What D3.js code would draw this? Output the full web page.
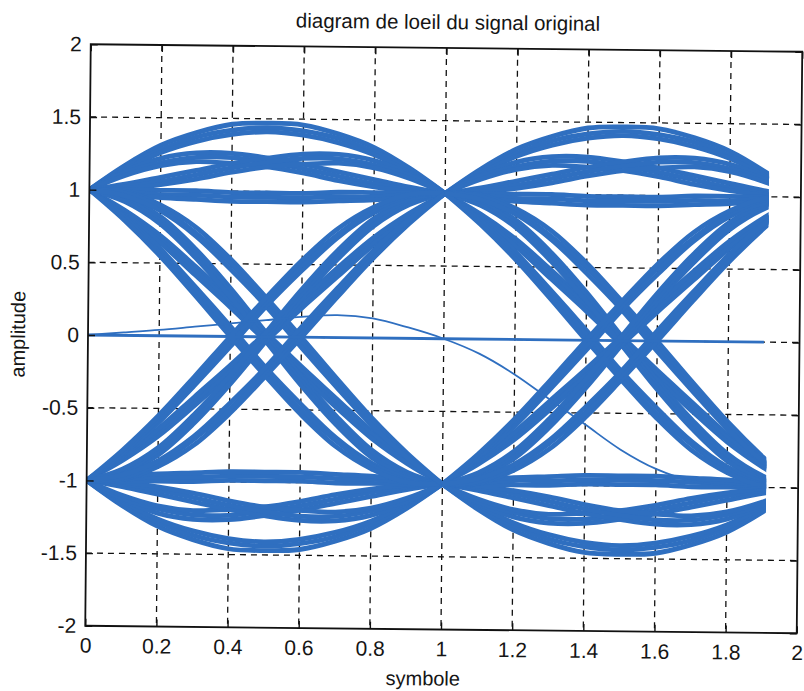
<!DOCTYPE html>
<html>
<head>
<meta charset="utf-8">
<script src="https://cdn.jsdelivr.net/npm/d3@7"></script>
<style>
  body { margin: 0; background: #fff; }
  text { font-family: "Liberation Sans", Arial, sans-serif; fill: #151515; }
</style>
</head>
<body>
<svg id="chart" width="804" height="691"></svg>
<script>
// Sample positions inside one symbol period
const symbolPhase = [0, 0.1, 0.2, 0.3, 0.4, 0.5, 0.6, 0.7, 0.8, 0.9, 1.0];
// Start of each symbol period shown on the eye
const symbolStarts = [0, 1];
// Last instant of the observation window
const windowEnd = 1.91;

// Traces that leave +1 and come back to +1
const highHold = [
  [1, 1.17, 1.31, 1.40, 1.46, 1.47, 1.46, 1.40, 1.31, 1.17, 1],
  [1, 1.16, 1.28, 1.37, 1.42, 1.44, 1.42, 1.37, 1.28, 1.16, 1],
  [1, 1.14, 1.26, 1.34, 1.39, 1.41, 1.39, 1.34, 1.26, 1.14, 1],
  [1, 1.13, 1.22, 1.26, 1.26, 1.23, 1.19, 1.14, 1.09, 1.04, 1],
  [1, 1.12, 1.19, 1.23, 1.23, 1.20, 1.16, 1.11, 1.06, 1.02, 1],
  [1, 1.10, 1.17, 1.20, 1.19, 1.17, 1.13, 1.08, 1.04, 1.01, 1],
  [1, 1.04, 1.09, 1.14, 1.19, 1.23, 1.26, 1.26, 1.22, 1.13, 1],
  [1, 1.02, 1.06, 1.11, 1.16, 1.20, 1.23, 1.23, 1.19, 1.12, 1],
  [1, 1.01, 1.04, 1.08, 1.13, 1.17, 1.19, 1.20, 1.17, 1.10, 1],
  [1, 1.00, 1.00, 1.00, 0.99, 0.99, 0.99, 1.00, 1.00, 1.00, 1],
  [1, 0.99, 0.97, 0.97, 0.96, 0.96, 0.96, 0.97, 0.97, 0.99, 1],
  [1, 0.97, 0.95, 0.94, 0.93, 0.93, 0.93, 0.94, 0.95, 0.97, 1]
];

// Traces that leave -1 and come back to -1
const lowHold = [
  [-1, -1.17, -1.31, -1.40, -1.46, -1.47, -1.46, -1.40, -1.31, -1.17, -1],
  [-1, -1.16, -1.28, -1.37, -1.42, -1.44, -1.42, -1.37, -1.28, -1.16, -1],
  [-1, -1.14, -1.26, -1.34, -1.39, -1.41, -1.39, -1.34, -1.26, -1.14, -1],
  [-1, -1.13, -1.22, -1.26, -1.26, -1.23, -1.19, -1.14, -1.09, -1.04, -1],
  [-1, -1.12, -1.19, -1.23, -1.23, -1.20, -1.16, -1.11, -1.06, -1.02, -1],
  [-1, -1.10, -1.17, -1.20, -1.19, -1.17, -1.13, -1.08, -1.04, -1.01, -1],
  [-1, -1.04, -1.09, -1.14, -1.19, -1.23, -1.26, -1.26, -1.22, -1.13, -1],
  [-1, -1.02, -1.06, -1.11, -1.16, -1.20, -1.23, -1.23, -1.19, -1.12, -1],
  [-1, -1.01, -1.04, -1.08, -1.13, -1.17, -1.19, -1.20, -1.17, -1.10, -1],
  [-1, -1.00, -1.00, -1.00, -0.99, -0.99, -0.99, -1.00, -1.00, -1.00, -1],
  [-1, -0.99, -0.97, -0.97, -0.96, -0.96, -0.96, -0.97, -0.97, -0.99, -1],
  [-1, -0.97, -0.95, -0.94, -0.93, -0.93, -0.93, -0.94, -0.95, -0.97, -1]
];

// Transitions from +1 down to -1
const fallTraces = [
  [1, 0.86, 0.69, 0.48, 0.26, 0.03, -0.20, -0.42, -0.64, -0.83, -1],
  [1, 0.84, 0.66, 0.45, 0.23, 0.00, -0.23, -0.45, -0.66, -0.84, -1],
  [1, 0.83, 0.64, 0.42, 0.20, -0.03, -0.26, -0.48, -0.69, -0.86, -1],
  [1, 0.95, 0.82, 0.60, 0.33, 0.03, -0.27, -0.54, -0.77, -0.92, -1],
  [1, 0.94, 0.79, 0.57, 0.30, 0.00, -0.30, -0.57, -0.79, -0.94, -1],
  [1, 0.92, 0.77, 0.54, 0.27, -0.03, -0.33, -0.60, -0.82, -0.95, -1],
  [1, 0.82, 0.60, 0.34, 0.07, -0.21, -0.46, -0.69, -0.86, -0.96, -1],
  [1, 0.81, 0.57, 0.31, 0.04, -0.24, -0.50, -0.71, -0.88, -0.98, -1],
  [1, 0.79, 0.55, 0.28, 0.00, -0.27, -0.53, -0.75, -0.90, -0.99, -1],
  [1, 0.99, 0.90, 0.75, 0.53, 0.27, 0.00, -0.28, -0.55, -0.79, -1],
  [1, 0.98, 0.88, 0.71, 0.50, 0.24, -0.04, -0.31, -0.57, -0.81, -1],
  [1, 0.96, 0.86, 0.69, 0.46, 0.21, -0.07, -0.34, -0.60, -0.82, -1]
];

// Transitions from -1 up to +1
const riseTraces = [
  [-1, -0.86, -0.69, -0.48, -0.26, -0.03, 0.20, 0.42, 0.64, 0.83, 1],
  [-1, -0.84, -0.66, -0.45, -0.23, 0.00, 0.23, 0.45, 0.66, 0.84, 1],
  [-1, -0.83, -0.64, -0.42, -0.20, 0.03, 0.26, 0.48, 0.69, 0.86, 1],
  [-1, -0.95, -0.82, -0.60, -0.33, -0.03, 0.27, 0.54, 0.77, 0.92, 1],
  [-1, -0.94, -0.79, -0.57, -0.30, 0.00, 0.30, 0.57, 0.79, 0.94, 1],
  [-1, -0.92, -0.77, -0.54, -0.27, 0.03, 0.33, 0.60, 0.82, 0.95, 1],
  [-1, -0.82, -0.60, -0.34, -0.07, 0.21, 0.46, 0.69, 0.86, 0.96, 1],
  [-1, -0.81, -0.57, -0.31, -0.04, 0.24, 0.50, 0.71, 0.88, 0.98, 1],
  [-1, -0.79, -0.55, -0.28, 0.00, 0.27, 0.53, 0.75, 0.90, 0.99, 1],
  [-1, -0.99, -0.90, -0.75, -0.53, -0.27, 0.00, 0.28, 0.55, 0.79, 1],
  [-1, -0.98, -0.88, -0.71, -0.50, -0.24, 0.04, 0.31, 0.57, 0.81, 1],
  [-1, -0.96, -0.86, -0.69, -0.46, -0.21, 0.07, 0.34, 0.60, 0.82, 1]
];

// Start-up trace (signal before the first full symbol) and the idle zero level
const transientTime = [0, 0.1, 0.2, 0.3, 0.4, 0.5, 0.6, 0.7, 0.8, 0.9, 1.0, 1.1, 1.2, 1.3, 1.4, 1.5, 1.6, 1.7, 1.8, 1.9];
const transientLevel = [0, 0.02, 0.04, 0.065, 0.09, 0.115, 0.14, 0.155, 0.135, 0.075, 0.0, -0.10, -0.24, -0.41, -0.58, -0.75, -0.88, -0.96, -0.99, -1.0];
const idleTime = [0, 1, 1.9];
const idleLevel = [0, 0, 0];

// Axis ticks
const xTicks = [0, 0.2, 0.4, 0.6, 0.8, 1, 1.2, 1.4, 1.6, 1.8, 2];
const yTicks = [-2, -1.5, -1, -0.5, 0, 0.5, 1, 1.5, 2];
const xTickLabels = ["0", "0.2", "0.4", "0.6", "0.8", "1", "1.2", "1.4", "1.6", "1.8", "2"];
const yTickLabels = ["-2", "-1.5", "-1", "-0.5", "0", "0.5", "1", "1.5", "2"];

const titleText = "diagram de loeil du signal original";
const xLabelText = "symbole";
const yLabelText = "amplitude";

// ---- drawing ----
const W = 711.5, H = 581.5;
const traceColor = "#2f6fc0";

const svg = d3.select("#chart");
// The page was photographed slightly askew; the whole figure shares that skew.
const root = svg.append("g")
  .attr("transform", "matrix(1,0.01054,-0.00946,1,90.75,44.25)");

const x = d3.scaleLinear().domain([0, 2]).range([0, W]);
const y = d3.scaleLinear().domain([-2, 2]).range([H, 0]);

root.append("clipPath").attr("id", "window")
  .append("rect").attr("x", 0).attr("y", 0)
  .attr("width", x(windowEnd)).attr("height", H);

// Dashed grid, under the traces
const grid = root.append("g")
  .attr("stroke", "#111").attr("stroke-width", 1.3).attr("stroke-dasharray", "6,5");
grid.selectAll(".gx").data(xTicks.slice(1, -1)).join("line")
  .attr("x1", d => x(d)).attr("x2", d => x(d)).attr("y1", 0).attr("y2", H);
grid.selectAll(".gy").data(yTicks.slice(1, -1)).join("line")
  .attr("y1", d => y(d)).attr("y2", d => y(d)).attr("x1", 0).attr("x2", W);

const line = d3.line()
  .x(d => x(d[0])).y(d => y(d[1]))
  .curve(d3.curveCatmullRom.alpha(0.5));

const traces = root.append("g").attr("clip-path", "url(#window)");

const families = [highHold, lowHold, fallTraces, riseTraces];
symbolStarts.forEach(start => {
  families.forEach(fam => {
    fam.forEach(levels => {
      traces.append("path")
        .attr("d", line(symbolPhase.map((p, i) => [start + p, levels[i]])))
        .attr("fill", "none")
        .attr("stroke", traceColor)
        .attr("stroke-width", 4.8)
        .attr("stroke-linejoin", "round");
    });
  });
});

traces.append("path")
  .attr("d", line(idleTime.map((t, i) => [t, idleLevel[i]])))
  .attr("fill", "none").attr("stroke", traceColor).attr("stroke-width", 2.8);

traces.append("path")
  .attr("d", line(transientTime.map((t, i) => [t, transientLevel[i]])))
  .attr("fill", "none").attr("stroke", traceColor).attr("stroke-width", 1.8);

// Axes with inward ticks
const fontSize = 21;
const bottomAxis = d3.axisBottom(x).tickValues(xTicks)
  .tickFormat((d, i) => xTickLabels[i]).tickSize(-7).tickPadding(12);
const leftAxis = d3.axisLeft(y).tickValues(yTicks)
  .tickFormat((d, i) => yTickLabels[i]).tickSize(-7).tickPadding(9);
const topAxis = d3.axisTop(x).tickValues(xTicks).tickFormat("").tickSize(-7);
const rightAxis = d3.axisRight(y).tickValues(yTicks).tickFormat("").tickSize(-7);

[
  [bottomAxis, `translate(0,${H})`],
  [leftAxis, null],
  [topAxis, null],
  [rightAxis, `translate(${W},0)`]
].forEach(([ax, tr]) => {
  const g = root.append("g").call(ax);
  if (tr) g.attr("transform", tr);
  g.select(".domain").remove();
  g.selectAll(".tick line").attr("stroke", "#111").attr("stroke-width", 1.4);
  g.selectAll(".tick text").style("font-size", fontSize + "px").attr("fill", "#151515");
});

root.append("rect")
  .attr("x", 0).attr("y", 0).attr("width", W).attr("height", H)
  .attr("fill", "none").attr("stroke", "#111").attr("stroke-width", 1.8);

// Title and axis labels
root.append("text")
  .attr("x", 357).attr("y", -26).attr("dy", "0.35em")
  .attr("text-anchor", "middle").style("font-size", "20.5px")
  .text(titleText);

root.append("text")
  .attr("x", 338).attr("y", H + 49).attr("dy", "0.35em")
  .attr("text-anchor", "middle").style("font-size", "20px")
  .text(xLabelText);

root.append("text")
  .attr("transform", `translate(-70,${H / 2}) rotate(-90)`)
  .attr("dy", "0.35em")
  .attr("text-anchor", "middle").style("font-size", "20px")
  .text(yLabelText);
</script>
</body>
</html>
